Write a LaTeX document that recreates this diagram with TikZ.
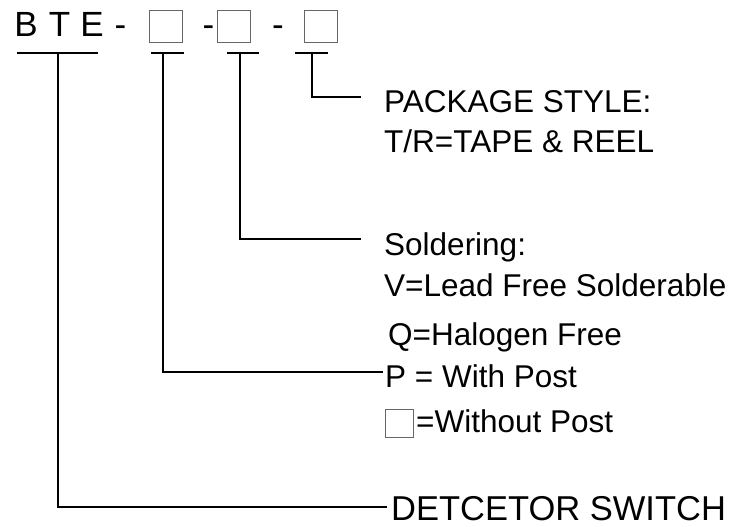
\documentclass[tikz,border=0pt]{standalone}
\usepackage{fontspec}
\setmainfont{Liberation Sans}
\usetikzlibrary{positioning}

\tikzset{
  part/.style={font=\fontsize{35}{40}\selectfont, inner sep=0pt, anchor=base},
  slot/.style={draw=black!60, line width=1pt, minimum width=33pt, minimum height=32pt, inner sep=0pt},
  lbl/.style={font=\fontsize{31.5}{37}\selectfont, inner sep=0pt, anchor=base west},
  lead/.style={line width=1.5pt}
}

\begin{document}
\begin{tikzpicture}[x=1pt, y=-1pt]
  \useasboundingbox (0,0) rectangle (731,527);
  % part number
  \node[part] (cb) at (26,37) {B};
  \node[part] (ct) at (59.5,37) {T};
  \node[part] (ce) at (92,37) {E};
  \node[part] (d1) at (120.5,37) {-};
  \node[slot] (box1) at (165.5,27) {};
  \node[part] (d2) at (208.5,37) {-};
  \node[slot] (box2) at (234,27) {};
  \node[part] (d3) at (278,37) {-};
  \node[slot] (box3) at (320.5,27) {};
  % underlines
  \draw[lead] (17,53) -- (98,53);
  \draw[lead] (151,53) -- (184,53);
  \draw[lead] (227,53) -- (259,53);
  \draw[lead] (295,53) -- (328,53);
  \coordinate (s1) at (58,53);
  \coordinate (s2) at (163,53);
  \coordinate (s3) at (240,53);
  \coordinate (s4) at (312,53);
  \coordinate (e1) at (387,507);
  \coordinate (e2) at (383,372);
  \coordinate (e3) at (361,239);
  \coordinate (e4) at (361,97);
  % explanations
  \node[lbl] (pkg) at (384,112) {PACKAGE STYLE:};
  \node[lbl] (tr) at (384,152) {T/R=TAPE \& REEL};
  \node[lbl] (sol) at (384,255) {Soldering:};
  \node[lbl] (lf) at (384,296) {V=Lead Free Solderable};
  \node[lbl] (hf) at (388,345) {Q=Halogen Free};
  \node[lbl] (wp) at (385,387) {P = With Post};
  \node[slot, minimum width=28pt, minimum height=28pt] (nobox) at (399,423) {};
  \node[lbl] (np) at (416,432) {=Without Post};
  \node[lbl, font=\fontsize{34.5}{40}\selectfont] (det) at (391,520) {DETCETOR SWITCH};
  % leaders
  \draw[lead] (s4) |- (e4);
  \draw[lead] (s3) |- (e3);
  \draw[lead] (s2) |- (e2);
  \draw[lead] (s1) |- (e1);
\end{tikzpicture}
\end{document}
